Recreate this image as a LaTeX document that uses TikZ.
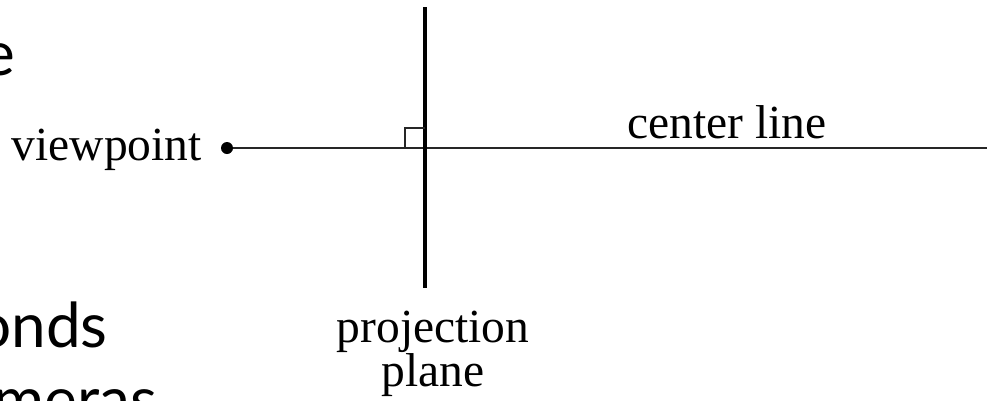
\documentclass[tikz,border=0pt]{standalone}
\usepackage{fontspec}
\setmainfont{Liberation Serif}
\newfontfamily\slidefont{Lato}
\begin{document}
\begin{tikzpicture}[x=1pt,y=-1pt,
  lbl/.style={inner sep=0pt, font=\fontsize{47.5}{40}\selectfont},
  slidetxt/.style={inner sep=0pt, font=\slidefont\fontsize{62}{70}\selectfont},
  thinline/.style={line width=2.6pt, draw=black!85},
  thickline/.style={line width=3.6pt, draw=black},
  marker/.style={line width=2pt, draw=black!85}]
\useasboundingbox (0,0) rectangle (994,400);
\clip (0,0) rectangle (994,400);
% partial slide text
\node[slidetxt, anchor=base east] (t1) at (15,75) {e};
\node[slidetxt, anchor=base east] (t2) at (108,347) {onds};
\node[slidetxt, anchor=base east] (t3) at (157,421) {meras};
% geometry
\coordinate (vpt) at (227,148);
\coordinate (cend) at (987,148);
\coordinate (ptop) at (425,7);
\coordinate (pbot) at (425,288);
\coordinate (cross) at (425,148);
\draw[thinline] (vpt) -- (cend);
\fill[black] (vpt) circle (6);
\draw[thickline] (ptop) -- (pbot);
\draw[marker] (cross) ++(-20,0) -- ++(0,-20) -- ++(20,0);
% labels
\node[lbl, anchor=base east] (vp) at (202,160) {viewpoint};
\node[lbl, anchor=base west] (cl) at (627,138) {center line};
\node[lbl, anchor=north, align=center] (pp) at (433,311) {projection\\plane};
\end{tikzpicture}
\end{document}
